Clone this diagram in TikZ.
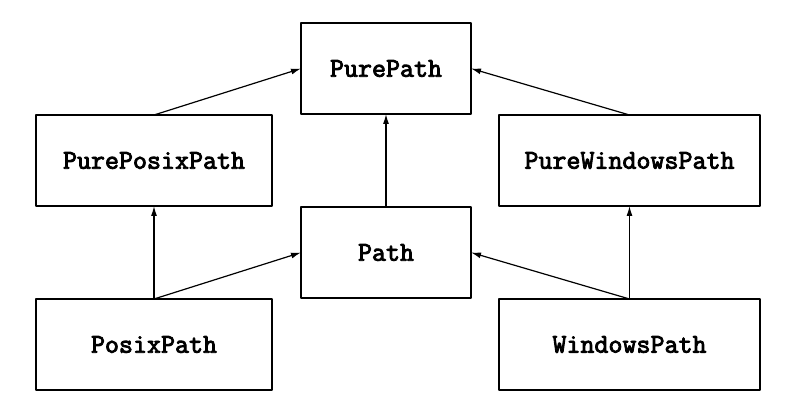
\documentclass[tikz,border=0pt]{standalone}
\usepackage{fontspec}
\setmonofont{Latin Modern Mono}[AutoFakeBold=3.2]
\usetikzlibrary{arrows.meta}
\begin{document}
\begin{tikzpicture}[x=0.5pt, y=-0.5pt, >={Latex[length=5pt,width=3pt]}, line width=0.6pt, line join=round,
		cls/.style={draw, inner sep=0pt, outer sep=0pt, minimum height=45.5pt, font=\fontsize{13.6}{16}\ttfamily\bfseries},
		mid/.style={cls, minimum width=85pt},
		lft/.style={cls, minimum width=118pt},
		rgt/.style={cls, minimum width=130.5pt}]
		\useasboundingbox (0,0) rectangle (800,416);
		% classes
		\node[mid] (purepath) at (386,68.5) {PurePath};
		\node[lft] (pureposix) at (154,160.5) {PurePosixPath};
		\node[rgt] (purewin) at (629.5,160.5) {PureWindowsPath};
		\node[mid] (path) at (386,252.5) {Path};
		\node[lft] (posix) at (154,344.5) {PosixPath};
		\node[rgt] (win) at (629.5,344.5) {WindowsPath};
		% inheritance
		\draw[->] (pureposix.north)--(purepath.west);
		\draw[->] (purewin.north)--(purepath.east);
		\draw[->] (path.north)--(purepath.south);
		\draw[->] (posix.north)--(pureposix.south);
		\draw[->] (posix.north)--(path.west);
		\draw[->] (win.north)--(purewin.south);
		\draw[->] (win.north)--(path.east);
\end{tikzpicture}
\end{document}
